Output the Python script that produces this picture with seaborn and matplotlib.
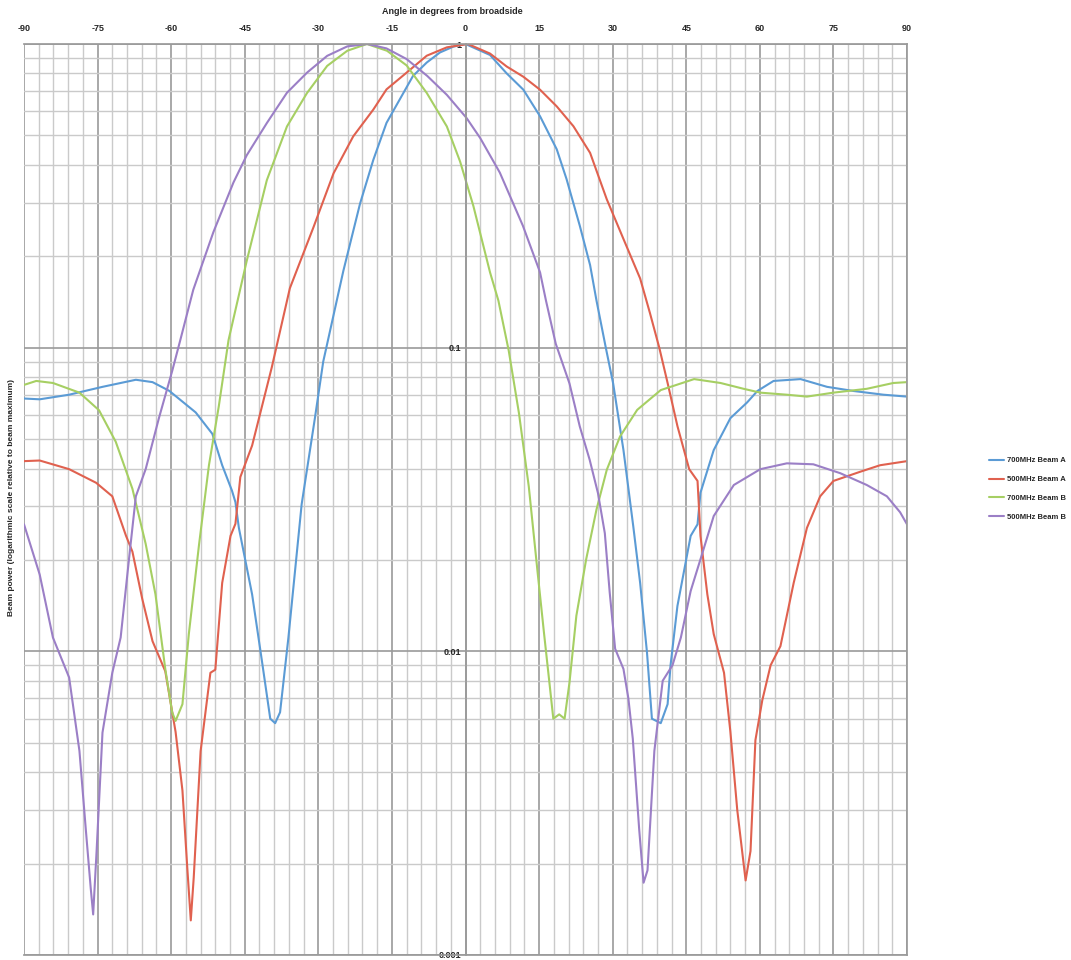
import numpy as np
import pandas as pd
import matplotlib
matplotlib.use("Agg")
import matplotlib.pyplot as plt
import matplotlib.ticker as mticker
import seaborn as sns

# ---- data ----
blue_x = [-90, -86.8, -80.8, -74, -67.2, -63.8, -60.4, -55, -51.6, -49.6, -47.6, -46.9, -46.2, -43.5, -41.5,
          -39.8, -38.8, -37.8, -36.1, -33.4, -30.7, -29, -24.9, -21.5, -18.8, -16.1, -13.4, -10.7, -7.9, -5.2,
          -2.5, 0, 5, 8.4, 11.8, 15.2, 18.6, 20.6, 23.3, 25.4, 26.7, 28.6, 30.1, 32.2, 34.2, 35.6, 37, 38, 39.8,
          41.2, 41.8, 43.2, 45.9, 47.3, 47.9, 50.6, 54, 57.4, 59.5, 62.8, 68.3, 73.7, 79.1, 85.2, 90]
blue_y = [0.068, 0.0676, 0.070, 0.0743, 0.0784, 0.077, 0.0721, 0.0612, 0.052, 0.041, 0.0338, 0.031, 0.0255,
          0.0154, 0.0093, 0.006, 0.0058, 0.0063, 0.0111, 0.0305, 0.0586, 0.09, 0.179, 0.298, 0.415, 0.55, 0.657,
          0.785, 0.869, 0.938, 0.98, 1.0, 0.92, 0.80, 0.707, 0.578, 0.45, 0.359, 0.252, 0.187, 0.143, 0.10,
          0.0762, 0.046, 0.0258, 0.0168, 0.0099, 0.006, 0.0058, 0.0067, 0.009, 0.0141, 0.024, 0.0262, 0.0333,
          0.046, 0.0586, 0.066, 0.072, 0.0777, 0.0788, 0.0743, 0.072, 0.070, 0.069]

red_x = [-90, -86.8, -80.8, -75.3, -72, -69.2, -67.9, -65.9, -63.8, -61.2, -59.1, -57.7, -56.7, -56, -55.4, -54,
         -52, -51, -49.6, -47.9, -46.9, -45.9, -43.5, -39.5, -35.8, -31, -26.9, -22.9, -18.8, -16.1, -12, -7.9,
         -3.8, 0.5, 5, 8.4, 11.8, 15.2, 18.6, 22, 25.4, 28.8, 32.2, 35.6, 37.6, 39.5, 41.2, 43.2, 45.6, 47.3,
         47.9, 49.3, 50.6, 52.7, 54, 55.4, 57.1, 58.1, 59.1, 60.5, 62.2, 64.2, 66.9, 69.6, 72.3, 75, 80.4, 84.5,
         90]
red_y = [0.0423, 0.0425, 0.0398, 0.0359, 0.0324, 0.024, 0.0213, 0.0149, 0.0108, 0.0086, 0.00543, 0.00348,
         0.00192, 0.0013, 0.0018, 0.00469, 0.0085, 0.0087, 0.0168, 0.024, 0.0263, 0.0375, 0.0476, 0.086, 0.157,
         0.249, 0.375, 0.496, 0.608, 0.709, 0.805, 0.915, 0.975, 1.0, 0.93, 0.843, 0.78, 0.707, 0.623, 0.536,
         0.438, 0.308, 0.228, 0.169, 0.13, 0.1, 0.0765, 0.0552, 0.0398, 0.0364, 0.024, 0.0154, 0.0114, 0.0085,
         0.00543, 0.003, 0.00176, 0.0022, 0.0051, 0.0069, 0.009, 0.0104, 0.0168, 0.0255, 0.0324, 0.0364, 0.039,
         0.041, 0.0423]

green_x = [-90, -87.5, -84.1, -78.7, -74.7, -71.3, -67.9, -65.2, -63.2, -61.2, -59.8, -59.1, -57.7, -56.4, -54.3,
           -52.3, -50.3, -48.3, -44.6, -40.5, -36.4, -32.3, -28.2, -24.1, -20.1, -16, -12, -7.9, -3.8, -1.1,
           1.6, 5, 6.7, 8.8, 10.9, 12.9, 14.7, 16, 17.1, 17.9, 19.1, 20.2, 21.2, 22.6, 24.6, 26.7, 28.8, 31.5,
           35, 39.8, 46.6, 52, 56.7, 60.1, 65.5, 69.6, 75, 81.8, 87.2, 90]
green_y = [0.0754, 0.0777, 0.0765, 0.0711, 0.0622, 0.049, 0.0343, 0.0226, 0.0154, 0.00875, 0.0063, 0.0059,
           0.0067, 0.0114, 0.0226, 0.041, 0.064, 0.106, 0.193, 0.356, 0.535, 0.69, 0.847, 0.95, 1.0, 0.95, 0.85,
           0.69, 0.535, 0.41, 0.293, 0.177, 0.143, 0.098, 0.0608, 0.0349, 0.0182, 0.0115, 0.0079, 0.006, 0.0062,
           0.006, 0.0079, 0.0131, 0.0201, 0.0293, 0.0396, 0.051, 0.0624, 0.0725, 0.0788, 0.0765, 0.0732, 0.0711,
           0.070, 0.069, 0.0711, 0.0732, 0.0765, 0.077]

purple_x = [-90, -86.8, -84.1, -80.8, -78.7, -77.4, -76.4, -75.9, -75.2, -74, -72, -70.3, -68.6, -67.2, -65.2,
            -62.5, -59.8, -58.2, -55.5, -51.4, -47.3, -44.6, -40.5, -36.4, -32.3, -28.2, -24.1, -20, -16.1, -12,
            -7.8, -3.8, 0.2, 3, 7, 11.7, 15.2, 16.4, 18.4, 21.2, 23.3, 25.3, 27, 28.4, 29.4, 30.5, 32.2, 33.2,
            34.1, 35.4, 36.3, 37.1, 38.5, 40.2, 42.2, 43.9, 45.9, 47.9, 50.6, 54.7, 60.1, 65.5, 70.9, 76.4, 81.8,
            85.9, 88.6, 90]
purple_y = [0.0262, 0.0179, 0.0111, 0.0082, 0.0047, 0.00259, 0.00166, 0.00136, 0.0022, 0.0054, 0.0085, 0.0111,
            0.0201, 0.0324, 0.0398, 0.0586, 0.0837, 0.105, 0.155, 0.24, 0.35, 0.43, 0.549, 0.691, 0.805,
            0.914, 0.982, 1.0, 0.967, 0.892, 0.785, 0.68, 0.571, 0.49, 0.377, 0.252, 0.177, 0.143, 0.103, 0.0762,
            0.055, 0.0428, 0.0332, 0.0245, 0.0156, 0.0102, 0.00875, 0.007, 0.00516, 0.0026, 0.00173, 0.0019,
            0.0047, 0.008, 0.009, 0.0111, 0.0158, 0.0201, 0.0279, 0.0353, 0.0398, 0.0416, 0.0413, 0.0386, 0.0353,
            0.0324, 0.0287, 0.0262]

series_names = ["700MHz Beam A", "500MHz Beam A", "700MHz Beam B", "500MHz Beam B"]
series_x = [blue_x, red_x, green_x, purple_x]
series_y = [blue_y, red_y, green_y, purple_y]
colors = ["#5b9bd5", "#e0614f", "#a6cf63", "#9b7fc6"]

frames = []
for name, xs, ys in zip(series_names, series_x, series_y):
    frames.append(pd.DataFrame({"angle": xs, "power": ys, "series": name}))
df = pd.concat(frames, ignore_index=True)

# ---- figure ----
sns.set_theme(style="white")
plt.rcParams["font.family"] = ["Liberation Sans", "DejaVu Sans"]
plt.rcParams["axes.unicode_minus"] = False
fig = plt.figure(figsize=(10.71, 9.6), dpi=100)
ax = fig.add_axes([24 / 1071, 1 - 955 / 960, (907 - 24) / 1071, (955 - 44) / 960])

sns.lineplot(data=df, x="angle", y="power", hue="series", hue_order=series_names,
             palette=colors, linewidth=1.5, sort=False, estimator=None, ax=ax)

ax.set_yscale("log")
ax.set_ylim(0.001, 1)
ax.set_xlim(-90, 90)

ax.xaxis.set_major_locator(mticker.MultipleLocator(15))
ax.xaxis.set_minor_locator(mticker.MultipleLocator(3))
ax.yaxis.set_major_locator(mticker.LogLocator(base=10))
ax.yaxis.set_minor_locator(mticker.LogLocator(base=10, subs=np.arange(2, 10)))
ax.yaxis.set_major_formatter(mticker.FuncFormatter(lambda v, p: f"{v:g}"))
ax.yaxis.set_minor_formatter(mticker.NullFormatter())

ax.grid(True, which="major", color="#9a9a9a", linewidth=1.2)
ax.grid(True, which="minor", color="#cacaca", linewidth=1.0)
ax.set_axisbelow(True)

ax.xaxis.tick_top()
ax.xaxis.set_label_position("top")
ax.tick_params(axis="x", which="major", labelsize=6.5, pad=8, length=0)
ax.tick_params(axis="x", which="minor", length=0)
for lbl in ax.get_xticklabels():
    lbl.set_fontweight("bold")

ax.spines["left"].set_position(("data", 0))
ax.spines["left"].set_color("#9a9a9a")
ax.tick_params(axis="y", which="major", labelsize=6.5, length=0, pad=3)
ax.tick_params(axis="y", which="minor", length=0)
for lbl in ax.get_yticklabels():
    lbl.set_fontweight("bold")
for s in ["top", "right", "bottom"]:
    ax.spines[s].set_color("#9a9a9a")

ax.set_xlabel("")
ax.set_ylabel("")
fig.text(452 / 1071, 1 - 12 / 960, "Angle in degrees from broadside", ha="center", va="center",
         fontsize=6.5, fontweight="bold")
fig.text(12 / 1071, 1 - 498 / 960, "Beam power (logarithmic scale relative to beam maximum)", rotation=90,
         ha="center", va="center", fontsize=6, fontweight="bold")

ax.legend(loc="center left", bbox_to_anchor=(985 / 1071, 1 - 489 / 960), bbox_transform=fig.transFigure,
          frameon=False, handlelength=2.0, handletextpad=0.4, labelspacing=1.5, borderpad=0,
          prop={"weight": "bold", "size": 5.5})

fig.savefig("out.png", dpi=100)
